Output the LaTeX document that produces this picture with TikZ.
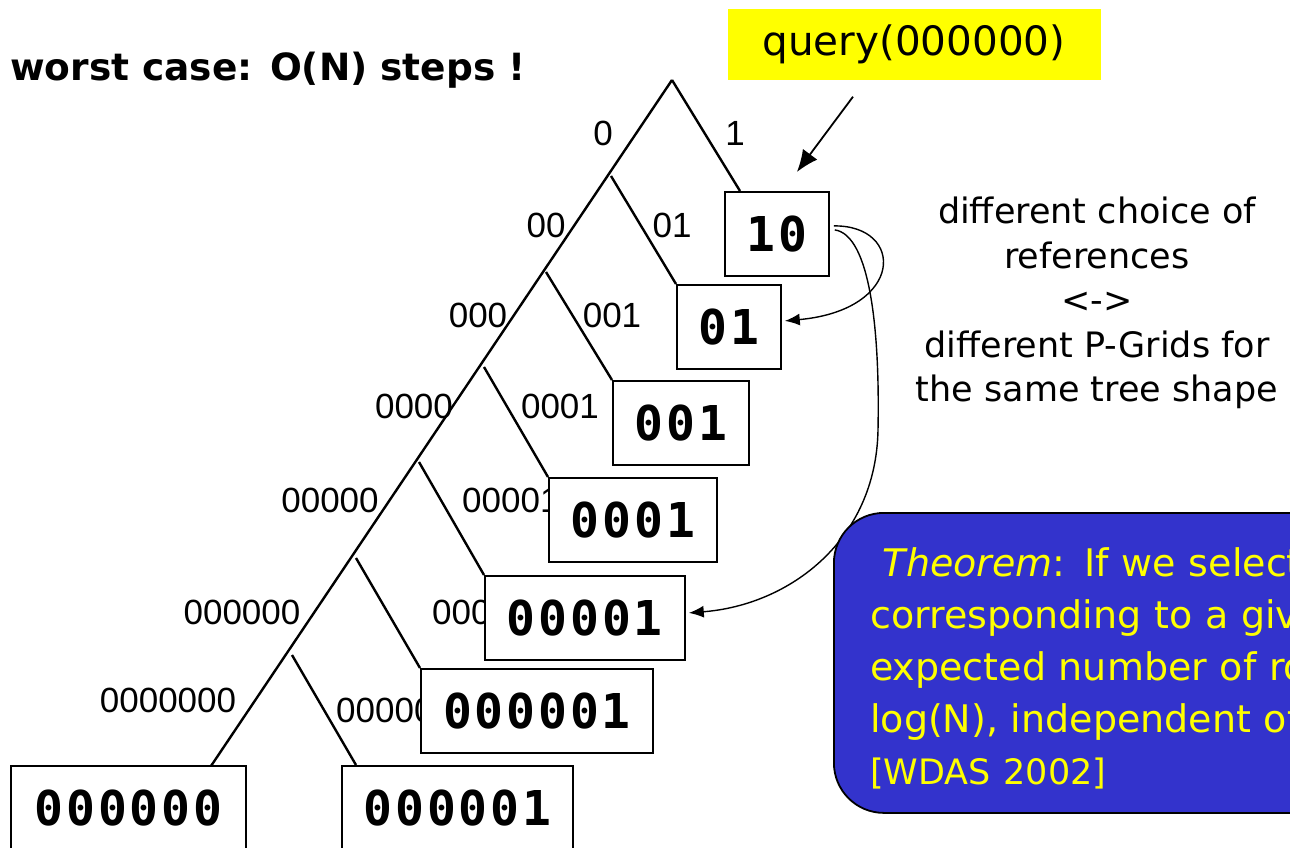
\documentclass[tikz,border=0pt]{standalone}
\usepackage{fontspec}
\usepackage{tikz}
\usetikzlibrary{arrows.meta}
\setmainfont{DejaVu Sans}
\newfontfamily\edgefont{Liberation Sans}
\newfontfamily\cellfont{DejaVu Sans Mono}[LetterSpace=6]
\definecolor{thmblue}{RGB}{51,51,204}
\definecolor{thmyellow}{RGB}{255,255,0}

\begin{document}
\begin{tikzpicture}[x=1pt,y=-1pt,
	cell/.style={shape=rectangle,draw=black,line width=1.8pt,fill=white,anchor=north west,minimum height=84pt,inner sep=0pt,font=\cellfont\bfseries\fontsize{48}{52}\selectfont},
	bit/.style={inner sep=0pt,font=\edgefont\fontsize{35}{40}\selectfont},
	branch/.style={-,line width=2.4pt},
	ref/.style={-{Latex[length=15pt,width=12pt]},line width=1.4pt}]
	
	\path[use as bounding box,clip] (0,0) rectangle (1290,847);
	
	% title and query
	\node[anchor=base west,inner sep=0pt,font=\bfseries\fontsize{37.5}{42}\selectfont] (title) at (10,80) {worst case: O(N) steps !};
	\node[shape=rectangle,fill=thmyellow,minimum width=373pt,minimum height=71pt,inner sep=0pt,font=\fontsize{40.5}{44}\selectfont] (query) at (914,44) {query(000000)};
	
	% edge labels
	\node[bit] (l0) at (603,133) {0};
	\node[bit] (l1) at (735,133) {1};
	\node[bit] (l00) at (546,225) {00};
	\node[bit] (l01) at (672,225) {01};
	\node[bit] (l000) at (478,315) {000};
	\node[bit] (l001) at (612,315) {001};
	\node[bit] (l0000) at (414,406) {0000};
	\node[bit] (l0001) at (560,406) {0001};
	\node[bit] (l00000) at (330,500) {00000};
	\node[bit,anchor=west] (l00001) at (462,500) {00001};
	\node[bit] (l000000) at (242,612) {000000};
	\node[bit,anchor=west] (l000001) at (432,612) {000001};
	\node[bit] (l0000000) at (168,700) {0000000};
	\node[bit,anchor=west] (l0000001) at (336,710) {0000001};
	
	% the trie
	\coordinate (top) at (672,80);
	\coordinate (s1) at (611,176);
	\coordinate (s2) at (546,272);
	\coordinate (s3) at (484,367);
	\coordinate (s4) at (419,462);
	\coordinate (s5) at (356,558);
	\coordinate (s6) at (292,655);
	\coordinate (bottom) at (211,766);
	
	\node[cell,minimum width=104pt] (10) at (724,191) {10};
	\node[cell,minimum width=104pt] (01) at (676,284) {01};
	\node[cell,minimum width=136pt] (001) at (612,380) {001};
	\node[cell,minimum width=168pt] (0001) at (548,477) {0001};
	\node[cell,minimum width=200pt] (00001) at (484,575) {00001};
	\node[cell,minimum width=232pt] (000001) at (420,668) {000001};
	\node[cell,minimum width=235pt] (leaf000000) at (10,765) {000000};
	\node[cell,minimum width=231pt] (leaf000001) at (341,765) {000001};
	
	\path[branch] (top) edge ([xshift=16pt]10.north west);
	\path[branch] (top) edge (bottom);
	\path[branch] (s1) edge (01.north west);
	\path[branch] (s2) edge (001.north west);
	\path[branch] (s3) edge (0001.north west);
	\path[branch] (s4) edge (00001.north west);
	\path[branch] (s5) edge (000001.north west);
	\path[branch] (s6) edge ([xshift=15pt]leaf000001.north west);
	
	% references
	\draw[ref,-{Latex[length=22pt,width=18pt]},line width=1.8pt] ([xshift=-61pt,yshift=-17pt]query.south) -- ([xshift=20pt,yshift=19pt]10.north);
	\draw[ref] ([xshift=4pt,yshift=8pt]10.east) .. controls (905,225) and (905,310) .. ([xshift=3pt,yshift=6pt]01.east);
	\draw[ref] ([xshift=5pt,yshift=4pt]10.east) .. controls (870,235) and (880,330) .. (878,430) .. controls (876,540) and (790,605) .. ([xshift=3pt,yshift=5pt]00001.east);
	
	% side remark
	\node[align=center,inner sep=0pt,font=\fontsize{35}{44.5}\selectfont] (remark) at (1097,303) {different choice of\\references\\<->\\different P-Grids for\\the same tree shape};
	
	\node[shape=rectangle,draw=black,line width=1.8pt,fill=thmblue,rounded corners=50pt,anchor=north west,minimum width=520pt,minimum height=300pt] (theorem) at (833,512) {};
	\node[anchor=north west,inner sep=0pt,text width=900pt,align=left,text=thmyellow,font=\fontsize{38}{52}\selectfont] (theoremtext) at (870,547)
	{\ \textit{Theorem}: If we select references\\corresponding to a given tree shape\\expected number of routing steps is\\log(N), independent of tree shape\\{\fontsize{35}{48}\selectfont [WDAS 2002]}};
	
\end{tikzpicture}
\end{document}
